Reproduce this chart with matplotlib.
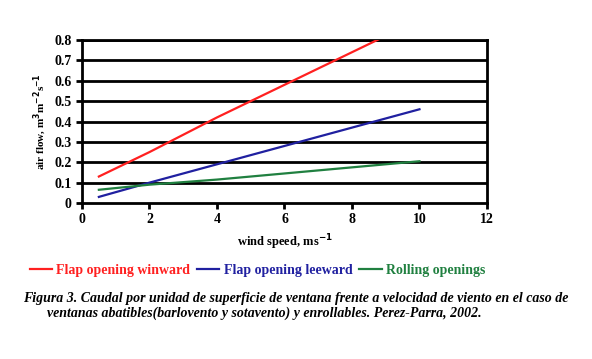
import matplotlib.pyplot as plt
from matplotlib.lines import Line2D

# wind speed (m/s) and air flow per unit window area
wind_speed = [0.5, 2, 4, 6, 8, 10]
flap_winward = [0.13, 0.25, 0.42, 0.58, 0.74, 0.90]
flap_leeward = [0.03, 0.10, 0.19, 0.28, 0.37, 0.46]
rolling = [0.065, 0.09, 0.115, 0.145, 0.175, 0.205]

series_names = ["Flap opening winward", "Flap opening leeward", "Rolling openings"]
series_colors = ["#ff2020", "#2020a0", "#208040"]

x_ticks = [0, 2, 4, 6, 8, 10, 12]
y_ticks = [0, 0.1, 0.2, 0.3, 0.4, 0.5, 0.6, 0.7, 0.8]
y_tick_labels = ["0", "0.1", "0.2", "0.3", "0.4", "0.5", "0.6", "0.7", "0.8"]

caption_1 = "Figura 3. Caudal por unidad de superficie de ventana frente a velocidad de viento en el caso de"
caption_2 = "ventanas abatibles(barlovento y sotavento) y enrollables. Perez-Parra, 2002."

plt.rcParams['font.family'] = ['Liberation Serif', 'DejaVu Serif']

fig = plt.figure(figsize=(5.92, 3.59), dpi=100)
ax = fig.add_axes([0.1385, 0.4345, 0.6841, 0.4541])

for y in y_ticks[1:]:
    ax.axhline(y, color="black", linewidth=2, zorder=1)

for vals, name, col in zip([flap_winward, flap_leeward, rolling], series_names, series_colors):
    ax.plot(wind_speed, vals, color=col, linewidth=1.6, label=name, zorder=3)

ax.set_xlim(0, 12)
ax.set_ylim(0, 0.8)
ax.set_xticks(x_ticks)
ax.set_yticks(y_ticks)
ax.set_yticklabels(y_tick_labels)
for s in ax.spines.values():
    s.set_linewidth(2)
ax.tick_params(direction="out", width=2, length=4, labelsize=10)
for lbl in ax.get_xticklabels() + ax.get_yticklabels():
    lbl.set_fontweight("bold")

ax.set_xlabel("wind speed, ms$^{\\mathbf{-1}}$", fontsize=9, fontweight="bold", labelpad=4)
ax.set_ylabel("air flow, m$^{\\mathbf{3}}$m$^{\\mathbf{-2}}$s$^{\\mathbf{-1}}$", fontsize=8, fontweight="bold", labelpad=4)

handles = [Line2D([], [], color=c, linewidth=1.6) for c in series_colors]
fig.legend(handles, series_names, loc="center", bbox_to_anchor=(0.435, 0.246), ncol=3,
           frameon=False, labelcolor=series_colors, handlelength=1.6, handletextpad=0.3,
           columnspacing=0.5, prop={"weight": "bold", "size": 10})

fig.text(0.5, 0.168, caption_1, ha="center", va="center", fontsize=10,
         fontweight="bold", style="italic")
fig.text(0.079, 0.128, caption_2, ha="left", va="center", fontsize=10,
         fontweight="bold", style="italic")

fig.savefig("out.png", dpi=100, facecolor="white")
